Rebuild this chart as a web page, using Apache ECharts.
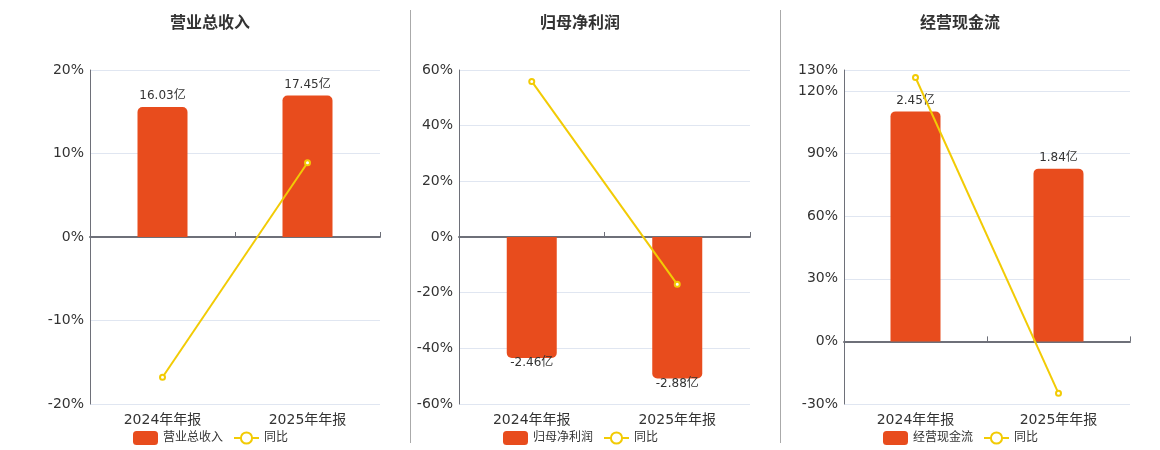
<!DOCTYPE html>
<html>
<head>
<meta charset="utf-8">
<title>财务摘要</title>
<script src="https://cdn.jsdelivr.net/npm/echarts@6/dist/echarts.min.js"></script>
<style>
    html, body { margin: 0; padding: 0; background: #fff; }
    #main { width: 1160px; height: 450px; }
</style>
</head>
<body>
<div id="main"></div>
<script>
// 数据
var periods = ['2024年年报', '2025年年报'];
var titles = ['营业总收入', '归母净利润', '经营现金流'];
var revenue = [16.03, 17.45];
var revenueYoy = [-16.8, 8.9];
var profit = [-2.46, -2.88];
var profitYoy = [55.9, -17.0];
var cashflow = [2.45, 1.84];
var cashflowYoy = [126.4, -24.9];
// 百分比轴刻度 [min, max, interval]
var pctAxes = [[-20, 20, 10], [-60, 60, 20], [-30, 130, 30]];

var barColor = '#e84c1d';
var lineColor = '#f2cb05';
var textColor = '#333';
var fontName = 'DejaVu Sans, Noto Sans CJK SC, sans-serif';

var barData = [revenue, profit, cashflow];
var yoyData = [revenueYoy, profitYoy, cashflowYoy];

// 每个面板的位置
var panels = [
    { left: 90, right: 780, center: 210 },
    { left: 459, right: 410, center: 580 },
    { left: 844, right: 30, center: 960 }
];

var myChart = echarts.init(document.getElementById('main'));

var option = {
    textStyle: { fontFamily: fontName },
    animation: false,
    title: [],
    legend: [],
    grid: [],
    xAxis: [],
    yAxis: [],
    series: [],
    graphic: [
        { type: 'line', shape: { x1: 410.5, y1: 10, x2: 410.5, y2: 443 }, style: { stroke: '#aaa', lineWidth: 1 } },
        { type: 'line', shape: { x1: 780.5, y1: 10, x2: 780.5, y2: 443 }, style: { stroke: '#aaa', lineWidth: 1 } }
    ]
};

panels.forEach(function (p, i) {
    var pct = pctAxes[i];
    var vals = barData[i];
    var maxAbs = Math.max.apply(null, vals.map(function (v) { return Math.abs(v); }));
    // 柱子用隐藏的轴，让零点与百分比轴对齐
    var barMax = maxAbs * 1.18;
    var barMin = barMax * pct[0] / pct[1];

    option.title.push({
        text: titles[i],
        left: p.center - 45,
        top: 11,
        textStyle: { fontSize: 16, fontWeight: 'bold', color: textColor, fontFamily: fontName }
    });

    option.legend.push({
        data: [titles[i], '同比' + i],
        left: p.center - 82,
        top: 426,
        itemWidth: 25,
        itemHeight: 14,
        itemGap: 10,
        textStyle: { fontSize: 12, color: textColor },
        formatter: function (name) { return name.indexOf('同比') === 0 ? '同比' : name; }
    });

    option.grid.push({
        left: p.left,
        right: p.right,
        top: 70,
        bottom: 46
    });

    // 下方文字标签的x轴
    option.xAxis.push({
        type: 'category',
        gridIndex: i,
        data: periods,
        position: 'bottom',
        axisLine: { show: false, onZero: false },
        axisTick: { show: false },
        axisLabel: { color: textColor, fontSize: 14, margin: 9 }
    });
    // 零点处的轴线
    option.xAxis.push({
        type: 'category',
        gridIndex: i,
        data: periods,
        axisLine: { show: true, onZero: true, lineStyle: { color: '#6e7079', width: 2 } },
        axisTick: { show: true, length: 5, lineStyle: { color: '#6e7079' } },
        axisLabel: { show: false }
    });

    option.yAxis.push({
        type: 'value',
        gridIndex: i,
        min: pct[0],
        max: pct[1],
        interval: pct[2],
        axisLine: { show: true, lineStyle: { color: '#6e7079' } },
        axisTick: { show: false },
        axisLabel: { color: textColor, fontSize: 14, margin: 6, formatter: '{value}%' },
        splitLine: { lineStyle: { color: '#e0e6f1' } }
    });
    option.yAxis.push({
        type: 'value',
        gridIndex: i,
        min: barMin,
        max: barMax,
        show: false,
        splitLine: { show: false }
    });

    option.series.push({
        name: titles[i],
        type: 'bar',
        xAxisIndex: i * 2,
        yAxisIndex: i * 2 + 1,
        barWidth: 50,
        itemStyle: { color: barColor },
        data: vals.map(function (v) {
            return {
                value: v,
                itemStyle: { borderRadius: v >= 0 ? [5, 5, 0, 0] : [0, 0, 5, 5] },
                label: v >= 0 ? { position: 'top', distance: 5 } : { position: 'bottom', distance: -1 }
            };
        }),
        label: {
            show: true,
            color: textColor,
            fontSize: 12,
            formatter: function (params) { return params.value + '亿'; }
        }
    });

    option.series.push({
        name: '同比' + i,
        type: 'line',
        xAxisIndex: i * 2,
        yAxisIndex: i * 2,
        symbol: 'emptyCircle',
        symbolSize: 5,
        lineStyle: { color: lineColor, width: 2 },
        itemStyle: { color: lineColor },
        data: yoyData[i],
        z: 5
    });
});

window.addEventListener('resize', function () {
    myChart.resize();
});

myChart.setOption(option);
</script>
</body>
</html>
